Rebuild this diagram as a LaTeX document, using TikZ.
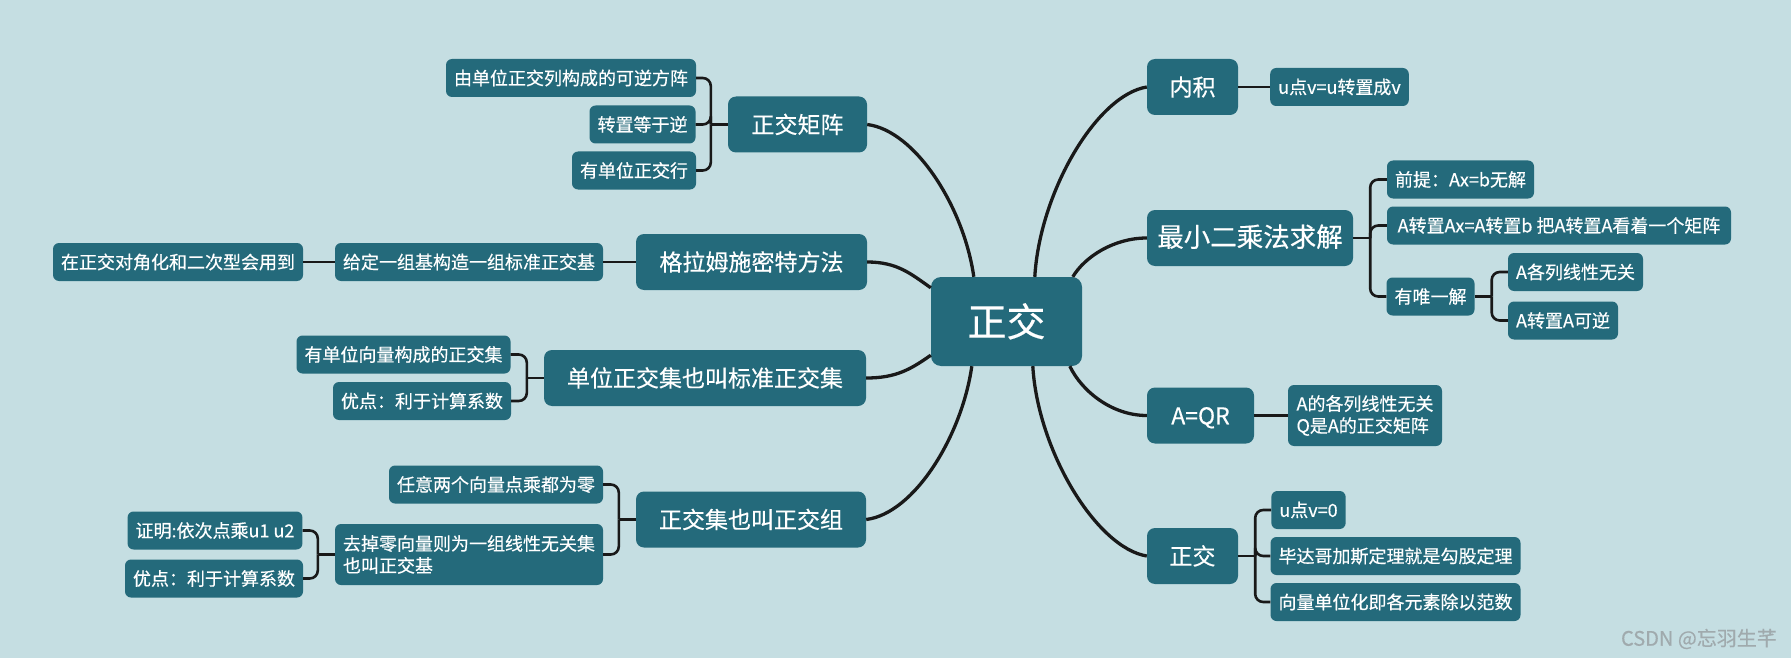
\documentclass[tikz,border=0pt]{standalone}
\usepackage{fontspec}
\setmainfont{Noto Sans CJK SC}[FakeBold=0.4]
\usetikzlibrary{calc}
\definecolor{bg}{RGB}{197,222,226}
\definecolor{nodefill}{RGB}{36,106,123}
\definecolor{ln}{RGB}{25,25,25}
\definecolor{wm}{RGB}{160,170,173}
\begin{document}
\begin{tikzpicture}[x=1pt,y=-1pt,
  box/.style={fill=nodefill,text=white,rounded corners=6pt,inner xsep=8pt,inner ysep=0pt},
  sub/.style={box,font=\fontsize{18pt}{22pt}\selectfont,minimum height=38pt,text height=16pt,text depth=2.3pt},
  subml/.style={box,font=\fontsize{18pt}{22pt}\selectfont,align=left},
  main/.style={box,rounded corners=8pt,font=\fontsize{23pt}{28pt}\selectfont,minimum height=56pt,text height=20pt,text depth=2.5pt},
  root/.style={box,rounded corners=10pt,font=\fontsize{39pt}{46pt}\selectfont,minimum height=89pt,minimum width=151pt,text height=33pt,text depth=3.4pt},
  trunk/.style={draw=ln,line width=3.3pt},
  twig/.style={draw=ln,line width=2.6pt,rounded corners=8pt}]
\fill[bg] (0,0) rectangle (1791,658);
\useasboundingbox (0,0) rectangle (1791,658);

% root
\node[root] (c) at (1006.5,321.5) {正交};

% left main branches
\node[main,minimum width=139pt] (L1) at (797.5,124.5) {正交矩阵};
\node[main,minimum width=231pt] (L2) at (751.5,262) {格拉姆施密特方法};
\node[main,minimum width=322pt] (L3) at (705,378) {单位正交集也叫标准正交集};
\node[main,minimum width=230pt] (L4) at (751,519.5) {正交集也叫正交组};

% right main branches
\node[main,minimum width=91pt] (R1) at (1192.5,87) {内积};
\node[main,minimum width=206pt,font=\fontsize{26.5pt}{30pt}\selectfont] (R2) at (1250,238) {最小二乘法求解};
\node[main,minimum width=107pt] (R3) at (1200.5,415.5) {A=QR};
\node[main,minimum width=91pt] (R4) at (1192.5,556) {正交};

% left sub nodes
\node[sub,minimum width=248pt] (a1) at (571,78) {由单位正交列构成的可逆方阵};
\node[sub,minimum width=105pt] (a2) at (642.5,124.5) {转置等于逆};
\node[sub,minimum width=122pt] (a3) at (634,170.5) {有单位正交行};
\node[sub,minimum width=266pt] (b1) at (469,262) {给定一组基构造一组标准正交基};
\node[sub,minimum width=246pt] (b2) at (178,262) {在正交对角化和二次型会用到};
\node[sub,minimum width=213pt] (d1) at (403.5,354.5) {有单位向量构成的正交集};
\node[sub,minimum width=176pt] (d2) at (422,401) {优点：利于计算系数};
\node[sub,minimum width=212pt] (e1) at (496,484.5) {任意两个向量点乘都为零};
\node[subml,minimum width=266pt,minimum height=61pt] (e2) at (469,554.5) {去掉零向量则为一组线性无关集\\也叫正交基};
\node[sub,minimum width=174pt] (e3) at (215,530.5) {证明:依次点乘u1 u2};
\node[sub,minimum width=176pt] (e4) at (214,578.5) {优点：利于计算系数};

% right sub nodes
\node[sub,minimum width=135pt] (r1) at (1339.5,87) {u点v=u转置成v};
\node[sub,minimum width=147pt] (s1) at (1460.5,179.5) {前提：Ax=b无解};
\node[sub,minimum width=344pt] (s2) at (1559,225.5) {A转置Ax=A转置b 把A转置A看着一个矩阵};
\node[sub,minimum width=87pt] (s3) at (1430.5,296.5) {有唯一解};
\node[sub,minimum width=135pt] (t1) at (1575.5,272) {A各列线性无关};
\node[sub,minimum width=110pt] (t2) at (1563,320.5) {A转置A可逆};
\node[subml,minimum width=154pt,minimum height=61pt] (q1) at (1365,415.5) {A的各列线性无关\\Q是A的正交矩阵};
\node[sub,minimum width=73pt] (u1) at (1308.5,510) {u点v=0};
\node[sub,minimum width=247pt] (u2) at (1395.5,556) {毕达哥加斯定理就是勾股定理};
\node[sub,minimum width=247pt] (u3) at (1395.5,602) {向量单位化即各元素除以范数};

% trunk curves from root
\draw[trunk] ($(c.north west)+(43,0)$) .. controls +(-10,-70) and +(48,6) .. (L1.east);
\draw[trunk] ($(c.north west)+(0,11)$) .. controls +(-20,-14) and +(30,0) .. (L2.east);
\draw[trunk] ($(c.south west)+(0,-11)$) .. controls +(-20,14) and +(30,0) .. (L3.east);
\draw[trunk] ($(c.south west)+(41,0)$) .. controls +(-10,70) and +(48,-6) .. (L4.east);
\draw[trunk] ($(c.north west)+(104,0)$) .. controls +(5,-85) and +(-50,8) .. (R1.west);
\draw[trunk] ($(c.north west)+(142,0)$) .. controls +(12,-20) and +(-33,0) .. (R2.west);
\draw[trunk] ($(c.south west)+(139,0)$) .. controls +(12,25) and +(-35,0) .. (R3.west);
\draw[trunk] ($(c.south west)+(102,0)$) .. controls +(5,85) and +(-50,-8) .. (R4.west);

% left twigs
\draw[twig] (L1.west) -- ++(-17,0) coordinate (jL1);
\foreach \n in {a1,a2,a3} \draw[twig] (jL1) |- (\n.east);
\draw[twig] (L2.west) -- (b1.east);
\draw[twig] (b1.west) -- (b2.east);
\draw[twig] (L3.west) -- ++(-17,0) coordinate (jL3);
\foreach \n in {d1,d2} \draw[twig] (jL3) |- (\n.east);
\draw[twig] (L4.west) -- ++(-17,0) coordinate (jL4);
\foreach \n in {e1,e2} \draw[twig] (jL4) |- (\n.east);
\draw[twig] (e2.west) -- ++(-17,0) coordinate (je2);
\foreach \n in {e3,e4} \draw[twig] (je2) |- (\n.east);

% right twigs
\draw[twig] (R1.east) -- (r1.west);
\draw[twig] (R2.east) -- ++(17,0) coordinate (jR2);
\foreach \n in {s1,s2,s3} \draw[twig] (jR2) |- (\n.west);
\draw[twig] (s3.east) -- ++(17,0) coordinate (js3);
\foreach \n in {t1,t2} \draw[twig] (js3) |- (\n.west);
\draw[twig] (R3.east) -- (q1.west);
\draw[twig] (R4.east) -- ++(17,0) coordinate (jR4);
\foreach \n in {u1,u2,u3} \draw[twig] (jR4) |- (\n.west);

% watermark text
\node[font=\fontsize{20pt}{24pt}\selectfont,text=wm,anchor=east,inner sep=0pt] (wmk) at (1777,639) {CSDN @忘羽生芊};
\end{tikzpicture}
\end{document}
